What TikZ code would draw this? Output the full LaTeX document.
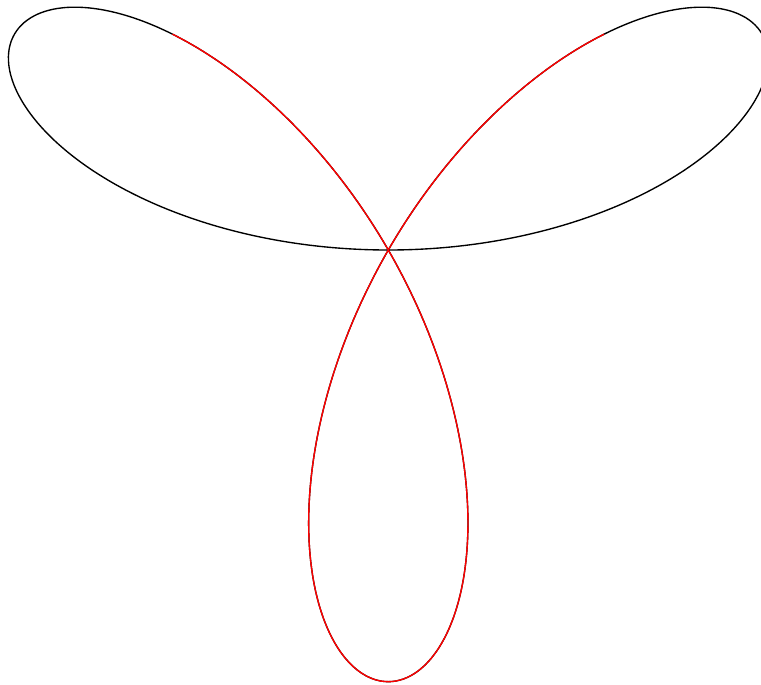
\documentclass[tikz,border=0pt]{standalone}
\usepackage{tikz}

\begin{document}
\begin{tikzpicture}[scale=5, line width=0.45pt]
        \colorlet{myred}{red}

        \clip (-0.8995,-1.0076) rectangle (0.8633,0.5791);

        % full rose r = sin(3t)
        \draw[black] plot[domain=0:180, samples=361, smooth] ({sin(3*\x)*cos(\x)}, {sin(3*\x)*sin(\x)});
        % part for t in [45,135]
        \draw[myred] plot[domain=45:135, samples=181, smooth] ({sin(3*\x)*cos(\x)}, {sin(3*\x)*sin(\x)});
    \end{tikzpicture}
\end{document}
